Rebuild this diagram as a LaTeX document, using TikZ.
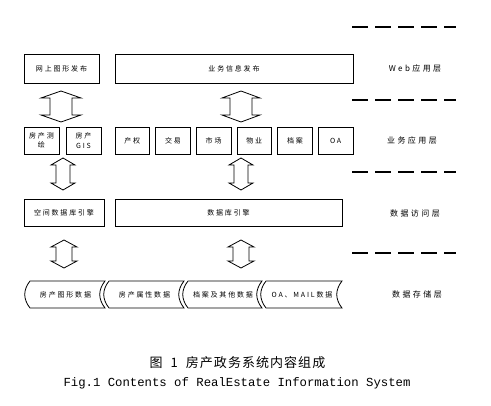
\documentclass[tikz,border=0pt]{standalone}
\usepackage{fontspec}
\newfontfamily\boxfont[LetterSpace=26]{Noto Sans CJK SC}
\newfontfamily\lyrfont[LetterSpace=30]{Noto Sans CJK SC}
\newfontfamily\capfont[LetterSpace=8]{Noto Sans CJK SC}
\setmonofont{Liberation Mono}
\usetikzlibrary{calc}

\tikzset{
  blk/.style={draw, line width=0.8pt, inner sep=0pt, align=center,
    font=\boxfont\fontsize{7}{9.5}\selectfont},
  lyr/.style={font=\lyrfont\fontsize{8}{10}\selectfont},
  layersep/.style={line width=2pt, dash pattern=on 16pt off 7pt},
  dbar/.style={line width=0.8pt, line join=miter},
  store/.style={line width=0.8pt}
}

% hollow double arrow: x, top, bottom, head half, shaft half, head length
\newcommand{\updn}[6]{%
  \draw[dbar] (#1,#2) -- ({#1+#4},{#2+#6}) -- ({#1+#5},{#2+#6})
    -- ({#1+#5},{#3-#6}) -- ({#1+#4},{#3-#6}) -- (#1,#3)
    -- ({#1-#4},{#3-#6}) -- ({#1-#5},{#3-#6}) -- ({#1-#5},{#2+#6})
    -- ({#1-#4},{#2+#6}) -- cycle;}

% storage tape: name, left, right, text
\newcommand{\tape}[4]{%
  \draw[store] (#2,281) -- (#3,281)
    .. controls ({#3-7},290) and ({#3-7},299) .. (#3,308) -- (#2,308)
    .. controls ({#2-7},299) and ({#2-7},290) .. (#2,281) -- cycle;
  \node[font=\boxfont\fontsize{7}{9}\selectfont] (#1) at ({(#2+#3)/2-2},294.5) {#4};}

\begin{document}
\begin{tikzpicture}[x=1pt, y=-1pt]
  \useasboundingbox (0,0) rectangle (491,406);

  % layer separators
  \foreach \y in {27, 100, 172, 253} {
    \draw[layersep] (352,\y) -- (456,\y);
  }

  % layer names
  \node[lyr] (lweb) at (415,68) {Web应用层};
  \node[lyr] (lapp) at (412,140) {业务应用层};
  \node[lyr] (lacc) at (415,213) {数据访问层};
  \node[lyr] (lsto) at (417,294) {数据存储层};

  % Web layer
  \node[blk, minimum width=75, minimum height=29] (gpub) at (61.5,68.5) {网上图形发布};
  \node[blk, minimum width=238, minimum height=29] (ipub) at (234,68.5) {业务信息发布};

  % business layer
  \node[blk, minimum width=35, minimum height=27] (survey) at (41.5,140.5) {房产测\\绘};
  \node[blk, minimum width=35, minimum height=27] (gis) at (83.5,140.5) {房产\\GIS};
  \foreach \i/\name/\txt in {0/right/产权, 1/trade/交易, 2/market/市场, 3/estate/物业, 4/archive/档案, 5/oa/OA} {
    \node[blk, minimum width=34.7, minimum height=27] (\name) at ({132.3+40.67*\i},140.5) {\txt};
  }

  % access layer
  \node[blk, minimum width=80, minimum height=27] (sde) at (64,212.5) {空间数据库引擎};
  \node[blk, minimum width=227, minimum height=27] (dbe) at (228.5,212.5) {数据库引擎};

  % storage layer
  \tape{sgraph}{30}{105}{房产图形数据}
  \tape{sattr}{109}{184}{房产属性数据}
  \tape{sarch}{188}{262}{档案及其他数据}
  \tape{smail}{266}{342}{OA、MAIL数据}

  % arrows between layers
  \updn{61}{91}{122}{20}{11}{7}
  \updn{241}{91}{122}{19}{11}{7}
  \updn{63}{158}{190}{12}{7}{7}
  \updn{241}{158}{190}{12}{7}{7}
  \updn{64}{240}{268}{13}{8}{7}
  \updn{241}{240}{268}{13}{8}{7}

  % caption
  \node[font=\capfont\fontsize{13}{15}\selectfont] (cap) at (237.5,363) {图\hspace{8pt}1\hspace{8pt}房产政务系统内容组成};
  \node[font=\ttfamily\fontsize{12.3}{14}\selectfont] (capen) at (237,383) {Fig.1 Contents of RealEstate Information System};
\end{tikzpicture}
\end{document}
